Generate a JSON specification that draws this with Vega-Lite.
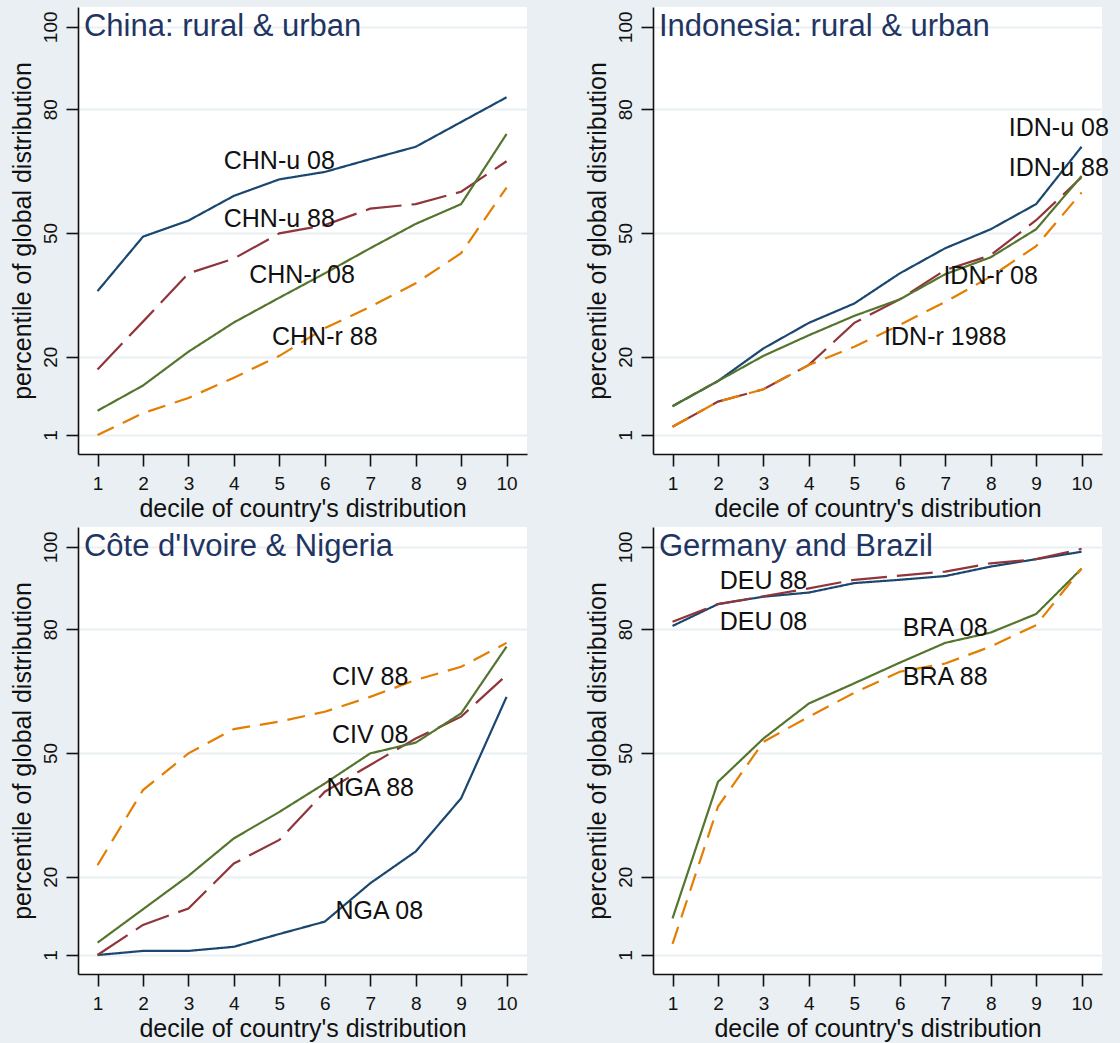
{
  "$schema": "https://vega.github.io/schema/vega-lite/v6.json",
  "background": "#e9eff2",
  "padding": {"left": 10, "top": 7, "right": 12, "bottom": 2},
  "config": {
    "font": "Liberation Sans",
    "view": {"fill": "white", "stroke": null},
    "axis": {
      "domainColor": "#111111", "domainWidth": 1.6,
      "tickColor": "#111111", "tickWidth": 1.6, "tickSize": 12,
      "labelFont": "Liberation Sans", "labelFontSize": 19, "labelColor": "#111111",
      "titleFont": "Liberation Sans", "titleFontSize": 25, "titleFontWeight": "normal", "titleColor": "#111111"
    }
  },
  "datasets": {
    "lines": [
      {"panel": 1, "key": "A08", "decile": 1, "pct": 35.9}, {"panel": 1, "key": "A08", "decile": 2, "pct": 49.1}, {"panel": 1, "key": "A08", "decile": 3, "pct": 53.0}, {"panel": 1, "key": "A08", "decile": 4, "pct": 59.0}, {"panel": 1, "key": "A08", "decile": 5, "pct": 63.0}, {"panel": 1, "key": "A08", "decile": 6, "pct": 64.8}, {"panel": 1, "key": "A08", "decile": 7, "pct": 67.9}, {"panel": 1, "key": "A08", "decile": 8, "pct": 70.9}, {"panel": 1, "key": "A08", "decile": 9, "pct": 76.9}, {"panel": 1, "key": "A08", "decile": 10, "pct": 82.9},
      {"panel": 1, "key": "A88", "decile": 1, "pct": 16.9}, {"panel": 1, "key": "A88", "decile": 2, "pct": 28.5}, {"panel": 1, "key": "A88", "decile": 3, "pct": 40.2}, {"panel": 1, "key": "A88", "decile": 4, "pct": 43.8}, {"panel": 1, "key": "A88", "decile": 5, "pct": 49.9}, {"panel": 1, "key": "A88", "decile": 6, "pct": 51.9}, {"panel": 1, "key": "A88", "decile": 7, "pct": 55.9}, {"panel": 1, "key": "A88", "decile": 8, "pct": 57.0}, {"panel": 1, "key": "A88", "decile": 9, "pct": 60.0}, {"panel": 1, "key": "A88", "decile": 10, "pct": 67.4},
      {"panel": 1, "key": "B08", "decile": 1, "pct": 6.9}, {"panel": 1, "key": "B08", "decile": 2, "pct": 13.0}, {"panel": 1, "key": "B08", "decile": 3, "pct": 21.2}, {"panel": 1, "key": "B08", "decile": 4, "pct": 28.3}, {"panel": 1, "key": "B08", "decile": 5, "pct": 34.3}, {"panel": 1, "key": "B08", "decile": 6, "pct": 40.2}, {"panel": 1, "key": "B08", "decile": 7, "pct": 46.3}, {"panel": 1, "key": "B08", "decile": 8, "pct": 52.2}, {"panel": 1, "key": "B08", "decile": 9, "pct": 57.0}, {"panel": 1, "key": "B08", "decile": 10, "pct": 74.0},
      {"panel": 1, "key": "B88", "decile": 1, "pct": 1.0}, {"panel": 1, "key": "B88", "decile": 2, "pct": 6.3}, {"panel": 1, "key": "B88", "decile": 3, "pct": 10.0}, {"panel": 1, "key": "B88", "decile": 4, "pct": 14.9}, {"panel": 1, "key": "B88", "decile": 5, "pct": 20.2}, {"panel": 1, "key": "B88", "decile": 6, "pct": 26.9}, {"panel": 1, "key": "B88", "decile": 7, "pct": 32.1}, {"panel": 1, "key": "B88", "decile": 8, "pct": 37.8}, {"panel": 1, "key": "B88", "decile": 9, "pct": 45.1}, {"panel": 1, "key": "B88", "decile": 10, "pct": 61.0},

      {"panel": 2, "key": "A08", "decile": 1, "pct": 8.0}, {"panel": 2, "key": "A08", "decile": 2, "pct": 14.1}, {"panel": 2, "key": "A08", "decile": 3, "pct": 22.0}, {"panel": 2, "key": "A08", "decile": 4, "pct": 28.2}, {"panel": 2, "key": "A08", "decile": 5, "pct": 32.9}, {"panel": 2, "key": "A08", "decile": 6, "pct": 40.2}, {"panel": 2, "key": "A08", "decile": 7, "pct": 46.3}, {"panel": 2, "key": "A08", "decile": 8, "pct": 50.9}, {"panel": 2, "key": "A08", "decile": 9, "pct": 57.0}, {"panel": 2, "key": "A08", "decile": 10, "pct": 70.9},
      {"panel": 2, "key": "A88", "decile": 1, "pct": 3.0}, {"panel": 2, "key": "A88", "decile": 2, "pct": 9.1}, {"panel": 2, "key": "A88", "decile": 3, "pct": 12.1}, {"panel": 2, "key": "A88", "decile": 4, "pct": 18.0}, {"panel": 2, "key": "A88", "decile": 5, "pct": 28.2}, {"panel": 2, "key": "A88", "decile": 6, "pct": 33.9}, {"panel": 2, "key": "A88", "decile": 7, "pct": 41.0}, {"panel": 2, "key": "A88", "decile": 8, "pct": 44.6}, {"panel": 2, "key": "A88", "decile": 9, "pct": 53.1}, {"panel": 2, "key": "A88", "decile": 10, "pct": 63.5},
      {"panel": 2, "key": "B08", "decile": 1, "pct": 8.0}, {"panel": 2, "key": "B08", "decile": 2, "pct": 14.1}, {"panel": 2, "key": "B08", "decile": 3, "pct": 20.2}, {"panel": 2, "key": "B08", "decile": 4, "pct": 25.2}, {"panel": 2, "key": "B08", "decile": 5, "pct": 29.9}, {"panel": 2, "key": "B08", "decile": 6, "pct": 33.9}, {"panel": 2, "key": "B08", "decile": 7, "pct": 40.0}, {"panel": 2, "key": "B08", "decile": 8, "pct": 44.1}, {"panel": 2, "key": "B08", "decile": 9, "pct": 50.9}, {"panel": 2, "key": "B08", "decile": 10, "pct": 63.8},
      {"panel": 2, "key": "B88", "decile": 1, "pct": 3.0}, {"panel": 2, "key": "B88", "decile": 2, "pct": 9.1}, {"panel": 2, "key": "B88", "decile": 3, "pct": 12.1}, {"panel": 2, "key": "B88", "decile": 4, "pct": 18.0}, {"panel": 2, "key": "B88", "decile": 5, "pct": 22.4}, {"panel": 2, "key": "B88", "decile": 6, "pct": 27.7}, {"panel": 2, "key": "B88", "decile": 7, "pct": 33.3}, {"panel": 2, "key": "B88", "decile": 8, "pct": 39.4}, {"panel": 2, "key": "B88", "decile": 9, "pct": 46.8}, {"panel": 2, "key": "B88", "decile": 10, "pct": 59.8},

      {"panel": 3, "key": "A08", "decile": 1, "pct": 1.0}, {"panel": 3, "key": "A08", "decile": 2, "pct": 2.0}, {"panel": 3, "key": "A08", "decile": 3, "pct": 2.0}, {"panel": 3, "key": "A08", "decile": 4, "pct": 3.0}, {"panel": 3, "key": "A08", "decile": 5, "pct": 6.1}, {"panel": 3, "key": "A08", "decile": 6, "pct": 9.1}, {"panel": 3, "key": "A08", "decile": 7, "pct": 18.4}, {"panel": 3, "key": "A08", "decile": 8, "pct": 26.1}, {"panel": 3, "key": "A08", "decile": 9, "pct": 39.0}, {"panel": 3, "key": "A08", "decile": 10, "pct": 63.6},
      {"panel": 3, "key": "A88", "decile": 1, "pct": 1.0}, {"panel": 3, "key": "A88", "decile": 2, "pct": 8.3}, {"panel": 3, "key": "A88", "decile": 3, "pct": 12.3}, {"panel": 3, "key": "A88", "decile": 4, "pct": 23.2}, {"panel": 3, "key": "A88", "decile": 5, "pct": 28.9}, {"panel": 3, "key": "A88", "decile": 6, "pct": 40.6}, {"panel": 3, "key": "A88", "decile": 7, "pct": 47.1}, {"panel": 3, "key": "A88", "decile": 8, "pct": 53.5}, {"panel": 3, "key": "A88", "decile": 9, "pct": 58.8}, {"panel": 3, "key": "A88", "decile": 10, "pct": 68.9},
      {"panel": 3, "key": "B08", "decile": 1, "pct": 4.0}, {"panel": 3, "key": "B08", "decile": 2, "pct": 12.1}, {"panel": 3, "key": "B08", "decile": 3, "pct": 20.2}, {"panel": 3, "key": "B08", "decile": 4, "pct": 29.3}, {"panel": 3, "key": "B08", "decile": 5, "pct": 35.7}, {"panel": 3, "key": "B08", "decile": 6, "pct": 42.6}, {"panel": 3, "key": "B08", "decile": 7, "pct": 49.9}, {"panel": 3, "key": "B08", "decile": 8, "pct": 52.5}, {"panel": 3, "key": "B08", "decile": 9, "pct": 59.6}, {"panel": 3, "key": "B08", "decile": 10, "pct": 75.8},
      {"panel": 3, "key": "B88", "decile": 1, "pct": 22.8}, {"panel": 3, "key": "B88", "decile": 2, "pct": 41.0}, {"panel": 3, "key": "B88", "decile": 3, "pct": 49.9}, {"panel": 3, "key": "B88", "decile": 4, "pct": 55.8}, {"panel": 3, "key": "B88", "decile": 5, "pct": 57.6}, {"panel": 3, "key": "B88", "decile": 6, "pct": 60.0}, {"panel": 3, "key": "B88", "decile": 7, "pct": 63.6}, {"panel": 3, "key": "B88", "decile": 8, "pct": 67.7}, {"panel": 3, "key": "B88", "decile": 9, "pct": 70.9}, {"panel": 3, "key": "B88", "decile": 10, "pct": 76.7},

      {"panel": 4, "key": "A08", "decile": 1, "pct": 80.8}, {"panel": 4, "key": "A08", "decile": 2, "pct": 86.1}, {"panel": 4, "key": "A08", "decile": 3, "pct": 87.9}, {"panel": 4, "key": "A08", "decile": 4, "pct": 88.9}, {"panel": 4, "key": "A08", "decile": 5, "pct": 91.2}, {"panel": 4, "key": "A08", "decile": 6, "pct": 92.0}, {"panel": 4, "key": "A08", "decile": 7, "pct": 92.9}, {"panel": 4, "key": "A08", "decile": 8, "pct": 95.2}, {"panel": 4, "key": "A08", "decile": 9, "pct": 97.0}, {"panel": 4, "key": "A08", "decile": 10, "pct": 98.8},
      {"panel": 4, "key": "A88", "decile": 1, "pct": 81.8}, {"panel": 4, "key": "A88", "decile": 2, "pct": 86.1}, {"panel": 4, "key": "A88", "decile": 3, "pct": 88.0}, {"panel": 4, "key": "A88", "decile": 4, "pct": 89.9}, {"panel": 4, "key": "A88", "decile": 5, "pct": 92.0}, {"panel": 4, "key": "A88", "decile": 6, "pct": 93.0}, {"panel": 4, "key": "A88", "decile": 7, "pct": 94.0}, {"panel": 4, "key": "A88", "decile": 8, "pct": 96.0}, {"panel": 4, "key": "A88", "decile": 9, "pct": 97.0}, {"panel": 4, "key": "A88", "decile": 10, "pct": 99.5},
      {"panel": 4, "key": "B08", "decile": 1, "pct": 9.9}, {"panel": 4, "key": "B08", "decile": 2, "pct": 43.0}, {"panel": 4, "key": "B08", "decile": 3, "pct": 53.5}, {"panel": 4, "key": "B08", "decile": 4, "pct": 62.0}, {"panel": 4, "key": "B08", "decile": 5, "pct": 66.9}, {"panel": 4, "key": "B08", "decile": 6, "pct": 71.9}, {"panel": 4, "key": "B08", "decile": 7, "pct": 76.7}, {"panel": 4, "key": "B08", "decile": 8, "pct": 79.2}, {"panel": 4, "key": "B08", "decile": 9, "pct": 83.7}, {"panel": 4, "key": "B08", "decile": 10, "pct": 94.7},
      {"panel": 4, "key": "B88", "decile": 1, "pct": 3.7}, {"panel": 4, "key": "B88", "decile": 2, "pct": 37.0}, {"panel": 4, "key": "B88", "decile": 3, "pct": 52.7}, {"panel": 4, "key": "B88", "decile": 4, "pct": 58.8}, {"panel": 4, "key": "B88", "decile": 5, "pct": 64.6}, {"panel": 4, "key": "B88", "decile": 6, "pct": 69.7}, {"panel": 4, "key": "B88", "decile": 7, "pct": 71.7}, {"panel": 4, "key": "B88", "decile": 8, "pct": 75.8}, {"panel": 4, "key": "B88", "decile": 9, "pct": 81.0}, {"panel": 4, "key": "B88", "decile": 10, "pct": 94.7}
    ],
    "labels": [
      {"panel": 1, "text": "CHN-u 08", "decile": 5.0, "pct": 67.4},
      {"panel": 1, "text": "CHN-u 88", "decile": 5.0, "pct": 53.5},
      {"panel": 1, "text": "CHN-r 08", "decile": 5.5, "pct": 39.8},
      {"panel": 1, "text": "CHN-r 88", "decile": 6.0, "pct": 24.8},
      {"panel": 2, "text": "IDN-u 08", "decile": 9.5, "pct": 75.5},
      {"panel": 2, "text": "IDN-u 88", "decile": 9.5, "pct": 65.7},
      {"panel": 2, "text": "IDN-r 08", "decile": 8.0, "pct": 39.6},
      {"panel": 2, "text": "IDN-r 1988", "decile": 7.0, "pct": 24.7},
      {"panel": 3, "text": "CIV 88", "decile": 7.0, "pct": 68.5},
      {"panel": 3, "text": "CIV 08", "decile": 7.0, "pct": 54.3},
      {"panel": 3, "text": "NGA 88", "decile": 7.0, "pct": 41.4},
      {"panel": 3, "text": "NGA 08", "decile": 7.2, "pct": 11.7},
      {"panel": 4, "text": "DEU 88", "decile": 3.0, "pct": 91.6},
      {"panel": 4, "text": "DEU 08", "decile": 3.0, "pct": 81.8},
      {"panel": 4, "text": "BRA 08", "decile": 7.0, "pct": 80.4},
      {"panel": 4, "text": "BRA 88", "decile": 7.0, "pct": 68.5}
    ],
    "titles": [
      {"panel": 1, "text": "China: rural & urban", "decile": 0.7, "pct": 100},
      {"panel": 2, "text": "Indonesia: rural & urban", "decile": 0.7, "pct": 100},
      {"panel": 3, "text": "Côte d'Ivoire & Nigeria", "decile": 0.7, "pct": 100},
      {"panel": 4, "text": "Germany and Brazil", "decile": 0.7, "pct": 100}
    ]
  },
  "columns": 2,
  "spacing": {"column": 58, "row": 6},
  "resolve": {"scale": {"color": "shared", "strokeDash": "shared"}},
  "concat": [
    {"width": 449, "height": 447, "layer": [
      {"data": {"name": "lines"}, "transform": [{"filter": "datum.panel == 1"}], "mark": {"type": "line", "strokeWidth": 2.2}, "encoding": {
        "x": {"field": "decile", "type": "quantitative", "scale": {"domain": [0.57, 10.45], "nice": false, "zero": false}, "axis": {"values": [1,2,3,4,5,6,7,8,9,10], "title": "decile of country's distribution", "grid": false, "labelPadding": 8, "titlePadding": 3}},
        "y": {"field": "pct", "type": "quantitative", "scale": {"domain": [-3.6, 104.8], "nice": false, "zero": false}, "axis": {"values": [1,20,50,80,100], "title": "percentile of global distribution", "grid": true, "gridColor": "#e9eff2", "gridWidth": 2, "labelAngle": -90, "labelAlign": "center", "labelBaseline": "alphabetic", "labelPadding": 10, "titlePadding": 6}},
        "color": {"field": "key", "type": "nominal", "scale": {"domain": ["A08","A88","B08","B88"], "range": ["#1a476f","#90353b","#55752f","#e37e00"]}, "legend": null},
        "strokeDash": {"field": "key", "type": "nominal", "scale": {"domain": ["A08","A88","B08","B88"], "range": [[1,0],[36,10],[1,0],[18,10]]}, "legend": null},
        "order": {"field": "decile", "type": "quantitative"}
      }},
      {"data": {"name": "labels"}, "transform": [{"filter": "datum.panel == 1"}], "mark": {"type": "text", "fontSize": 25, "color": "#111111", "align": "center", "baseline": "middle"}, "encoding": {"x": {"field": "decile", "type": "quantitative"}, "y": {"field": "pct", "type": "quantitative"}, "text": {"field": "text"}}},
      {"data": {"name": "titles"}, "transform": [{"filter": "datum.panel == 1"}], "mark": {"type": "text", "fontSize": 31, "color": "#1f3564", "align": "left", "baseline": "middle"}, "encoding": {"x": {"field": "decile", "type": "quantitative"}, "y": {"field": "pct", "type": "quantitative"}, "text": {"field": "text"}}}
    ]},
    {"width": 449, "height": 447, "layer": [
      {"data": {"name": "lines"}, "transform": [{"filter": "datum.panel == 2"}], "mark": {"type": "line", "strokeWidth": 2.2}, "encoding": {
        "x": {"field": "decile", "type": "quantitative", "scale": {"domain": [0.57, 10.45], "nice": false, "zero": false}, "axis": {"values": [1,2,3,4,5,6,7,8,9,10], "title": "decile of country's distribution", "grid": false, "labelPadding": 8, "titlePadding": 3}},
        "y": {"field": "pct", "type": "quantitative", "scale": {"domain": [-3.6, 104.8], "nice": false, "zero": false}, "axis": {"values": [1,20,50,80,100], "title": "percentile of global distribution", "grid": true, "gridColor": "#e9eff2", "gridWidth": 2, "labelAngle": -90, "labelAlign": "center", "labelBaseline": "alphabetic", "labelPadding": 10, "titlePadding": 6}},
        "color": {"field": "key", "type": "nominal", "scale": {"domain": ["A08","A88","B08","B88"], "range": ["#1a476f","#90353b","#55752f","#e37e00"]}, "legend": null},
        "strokeDash": {"field": "key", "type": "nominal", "scale": {"domain": ["A08","A88","B08","B88"], "range": [[1,0],[36,10],[1,0],[18,10]]}, "legend": null},
        "order": {"field": "decile", "type": "quantitative"}
      }},
      {"data": {"name": "labels"}, "transform": [{"filter": "datum.panel == 2"}], "mark": {"type": "text", "fontSize": 25, "color": "#111111", "align": "center", "baseline": "middle"}, "encoding": {"x": {"field": "decile", "type": "quantitative"}, "y": {"field": "pct", "type": "quantitative"}, "text": {"field": "text"}}},
      {"data": {"name": "titles"}, "transform": [{"filter": "datum.panel == 2"}], "mark": {"type": "text", "fontSize": 31, "color": "#1f3564", "align": "left", "baseline": "middle"}, "encoding": {"x": {"field": "decile", "type": "quantitative"}, "y": {"field": "pct", "type": "quantitative"}, "text": {"field": "text"}}}
    ]},
    {"width": 449, "height": 447, "layer": [
      {"data": {"name": "lines"}, "transform": [{"filter": "datum.panel == 3"}], "mark": {"type": "line", "strokeWidth": 2.2}, "encoding": {
        "x": {"field": "decile", "type": "quantitative", "scale": {"domain": [0.57, 10.45], "nice": false, "zero": false}, "axis": {"values": [1,2,3,4,5,6,7,8,9,10], "title": "decile of country's distribution", "grid": false, "labelPadding": 8, "titlePadding": 3}},
        "y": {"field": "pct", "type": "quantitative", "scale": {"domain": [-3.6, 104.8], "nice": false, "zero": false}, "axis": {"values": [1,20,50,80,100], "title": "percentile of global distribution", "grid": true, "gridColor": "#e9eff2", "gridWidth": 2, "labelAngle": -90, "labelAlign": "center", "labelBaseline": "alphabetic", "labelPadding": 10, "titlePadding": 6}},
        "color": {"field": "key", "type": "nominal", "scale": {"domain": ["A08","A88","B08","B88"], "range": ["#1a476f","#90353b","#55752f","#e37e00"]}, "legend": null},
        "strokeDash": {"field": "key", "type": "nominal", "scale": {"domain": ["A08","A88","B08","B88"], "range": [[1,0],[36,10],[1,0],[18,10]]}, "legend": null},
        "order": {"field": "decile", "type": "quantitative"}
      }},
      {"data": {"name": "labels"}, "transform": [{"filter": "datum.panel == 3"}], "mark": {"type": "text", "fontSize": 25, "color": "#111111", "align": "center", "baseline": "middle"}, "encoding": {"x": {"field": "decile", "type": "quantitative"}, "y": {"field": "pct", "type": "quantitative"}, "text": {"field": "text"}}},
      {"data": {"name": "titles"}, "transform": [{"filter": "datum.panel == 3"}], "mark": {"type": "text", "fontSize": 31, "color": "#1f3564", "align": "left", "baseline": "middle"}, "encoding": {"x": {"field": "decile", "type": "quantitative"}, "y": {"field": "pct", "type": "quantitative"}, "text": {"field": "text"}}}
    ]},
    {"width": 449, "height": 447, "layer": [
      {"data": {"name": "lines"}, "transform": [{"filter": "datum.panel == 4"}], "mark": {"type": "line", "strokeWidth": 2.2}, "encoding": {
        "x": {"field": "decile", "type": "quantitative", "scale": {"domain": [0.57, 10.45], "nice": false, "zero": false}, "axis": {"values": [1,2,3,4,5,6,7,8,9,10], "title": "decile of country's distribution", "grid": false, "labelPadding": 8, "titlePadding": 3}},
        "y": {"field": "pct", "type": "quantitative", "scale": {"domain": [-3.6, 104.8], "nice": false, "zero": false}, "axis": {"values": [1,20,50,80,100], "title": "percentile of global distribution", "grid": true, "gridColor": "#e9eff2", "gridWidth": 2, "labelAngle": -90, "labelAlign": "center", "labelBaseline": "alphabetic", "labelPadding": 10, "titlePadding": 6}},
        "color": {"field": "key", "type": "nominal", "scale": {"domain": ["A08","A88","B08","B88"], "range": ["#1a476f","#90353b","#55752f","#e37e00"]}, "legend": null},
        "strokeDash": {"field": "key", "type": "nominal", "scale": {"domain": ["A08","A88","B08","B88"], "range": [[1,0],[36,10],[1,0],[18,10]]}, "legend": null},
        "order": {"field": "decile", "type": "quantitative"}
      }},
      {"data": {"name": "labels"}, "transform": [{"filter": "datum.panel == 4"}], "mark": {"type": "text", "fontSize": 25, "color": "#111111", "align": "center", "baseline": "middle"}, "encoding": {"x": {"field": "decile", "type": "quantitative"}, "y": {"field": "pct", "type": "quantitative"}, "text": {"field": "text"}}},
      {"data": {"name": "titles"}, "transform": [{"filter": "datum.panel == 4"}], "mark": {"type": "text", "fontSize": 31, "color": "#1f3564", "align": "left", "baseline": "middle"}, "encoding": {"x": {"field": "decile", "type": "quantitative"}, "y": {"field": "pct", "type": "quantitative"}, "text": {"field": "text"}}}
    ]}
  ]
}
